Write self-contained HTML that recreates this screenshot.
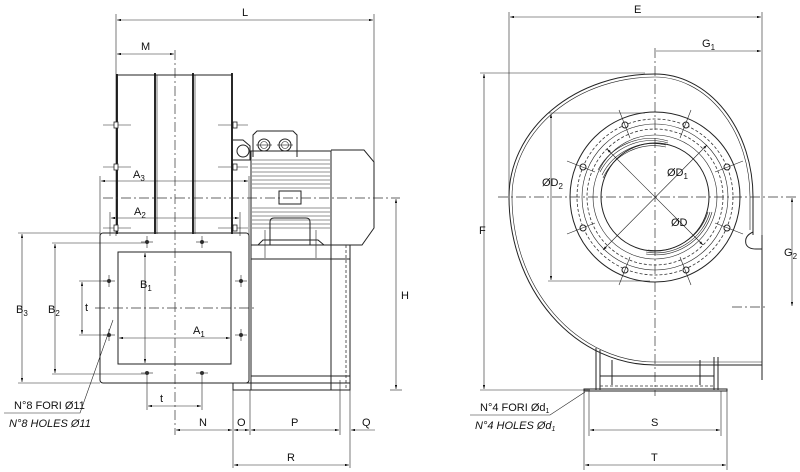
<!DOCTYPE html>
<html><head><meta charset="utf-8"><style>
html,body{margin:0;padding:0;background:#fff}
svg{display:block}
text{font-family:"Liberation Sans",sans-serif;font-size:11px;fill:#111}
.l{stroke:#222;stroke-width:1;fill:none}
.t{stroke:#222;stroke-width:0.6;fill:none}
.k{stroke:#111;stroke-width:1.8;fill:none}
.c{stroke:#333;stroke-width:0.7;fill:none;stroke-dasharray:10 3 2 3}
.d{stroke:#333;stroke-width:0.8;fill:none;stroke-dasharray:3 2}
</style></head><body>
<svg width="800" height="472" viewBox="0 0 800 472" xmlns="http://www.w3.org/2000/svg">
<defs>
<marker id="a" viewBox="0 0 10 6" refX="10" refY="3" markerWidth="7" markerHeight="4" orient="auto-start-reverse"><path d="M0,0 L10,3 L0,6 z" fill="#111"/></marker>
</defs>
<!-- LEFT VIEW -->
<g>
<line class="t" x1="116" y1="14" x2="116" y2="236"/>
<line class="t" x1="374" y1="14" x2="374" y2="165"/>
<line class="t" x1="117" y1="20" x2="373" y2="20" marker-start="url(#a)" marker-end="url(#a)"/>
<text x="242" y="16">L</text>
<line class="t" x1="117" y1="54" x2="174" y2="54" marker-start="url(#a)" marker-end="url(#a)"/>
<text x="141" y="50">M</text>
<line class="c" x1="175" y1="50" x2="175" y2="435"/>
<!-- housing -->
<line class="k" x1="117" y1="74" x2="117" y2="234"/>
<line class="l" x1="117" y1="75" x2="232" y2="75"/>
<line class="k" x1="155" y1="73" x2="155" y2="234"/>
<line class="k" x1="193" y1="73" x2="193" y2="234"/>
<line class="k" x1="232" y1="73" x2="232" y2="234"/>
<line class="t" x1="157" y1="75" x2="157" y2="234"/>
<line class="t" x1="195" y1="75" x2="195" y2="234"/>
<g class="t">
<line x1="103" y1="125" x2="131" y2="125"/><line x1="218" y1="125" x2="248" y2="125"/>
<line x1="103" y1="167" x2="131" y2="167"/><line x1="218" y1="167" x2="248" y2="167"/>
<line x1="103" y1="228" x2="131" y2="228"/><line x1="218" y1="228" x2="248" y2="228"/>
</g>
<g fill="#fff" stroke="#222" stroke-width="0.8">
<rect x="114" y="122" width="4" height="6"/><rect x="233" y="122" width="4" height="6"/>
<rect x="114" y="164" width="4" height="6"/><rect x="233" y="164" width="4" height="6"/>
<rect x="114" y="225" width="4" height="6"/><rect x="233" y="225" width="4" height="6"/>
</g>
<line class="t" x1="100" y1="176" x2="100" y2="236"/>
<line class="t" x1="249" y1="176" x2="249" y2="236"/>
<line class="t" x1="101" y1="181" x2="248" y2="181" marker-start="url(#a)" marker-end="url(#a)"/>
<text x="133" y="178">A<tspan font-size="8" dy="3">3</tspan></text>
<line class="t" x1="110" y1="212" x2="110" y2="236"/>
<line class="t" x1="240" y1="212" x2="240" y2="236"/>
<line class="t" x1="111" y1="218" x2="239" y2="218" marker-start="url(#a)" marker-end="url(#a)"/>
<text x="134" y="215">A<tspan font-size="8" dy="3">2</tspan></text>
<line class="c" x1="103" y1="198" x2="400" y2="198"/>
<!-- motor -->
<path class="l" d="M253,157 L253,135 L257,131 L293,131 L297,135 L297,157"/>
<circle class="l" cx="264" cy="145" r="6"/><circle class="t" cx="264" cy="145" r="3.5"/>
<circle class="l" cx="285" cy="145" r="6"/><circle class="t" cx="285" cy="145" r="3.5"/>
<line class="t" x1="256" y1="145" x2="272" y2="145"/><line class="t" x1="277" y1="145" x2="293" y2="145"/>
<circle class="l" cx="243" cy="151" r="6"/>
<path class="l" d="M233,140 L243,140 L250,146 L250,160 L233,160"/>
<rect class="l" x="251" y="151" width="80" height="94"/>
<g class="t">
<line x1="252" y1="160" x2="330" y2="160"/><line x1="252" y1="164" x2="330" y2="164"/>
<line x1="252" y1="168" x2="330" y2="168"/><line x1="252" y1="172" x2="330" y2="172"/>
<line x1="252" y1="176" x2="330" y2="176"/><line x1="252" y1="180" x2="330" y2="180"/>
<line x1="252" y1="184" x2="330" y2="184"/><line x1="252" y1="188" x2="330" y2="188"/>
<line x1="252" y1="208" x2="330" y2="208"/><line x1="252" y1="212" x2="330" y2="212"/>
<line x1="252" y1="216" x2="330" y2="216"/><line x1="252" y1="220" x2="330" y2="220"/>
<line x1="252" y1="224" x2="330" y2="224"/><line x1="252" y1="228" x2="330" y2="228"/>
</g>
<rect class="l" x="279" y="191" width="22" height="13" fill="#fff"/>
<path class="l" d="M270,245 L270,222 Q270,218 274,218 L306,218 Q310,218 310,222 L310,245" fill="#fff"/>
<path class="l" d="M258,245 L263,240 L318,240 L324,245"/>
<line class="t" x1="265" y1="230" x2="265" y2="258"/><line class="t" x1="316" y1="230" x2="316" y2="258"/>
<path class="l" d="M331,150 L364,150 L374,162 L374,228 L362,245 L331,245"/>
<!-- pedestal -->
<rect class="l" x="251" y="245" width="99" height="145"/>
<line class="l" x1="251" y1="259" x2="350" y2="259"/>
<line class="l" x1="251" y1="376" x2="350" y2="376"/>
<line class="l" x1="331" y1="245" x2="331" y2="390"/>
<line class="d" x1="346" y1="245" x2="346" y2="390"/>
<rect class="l" x="233" y="383" width="117" height="7"/>
<line class="t" x1="390" y1="390" x2="402" y2="390"/>
<line class="t" x1="396" y1="199" x2="396" y2="389" marker-start="url(#a)" marker-end="url(#a)"/>
<text x="401" y="299">H</text>
<!-- flange -->
<rect class="l" x="100" y="233" width="149" height="150" rx="3"/>
<rect class="l" x="118" y="252" width="113" height="112"/>
<g fill="#333">
<circle cx="147" cy="242" r="2"/><circle cx="202" cy="242" r="2"/>
<circle cx="109" cy="281" r="2"/><circle cx="241" cy="281" r="2"/>
<circle cx="109" cy="335" r="2"/><circle cx="241" cy="335" r="2"/>
<circle cx="147" cy="373" r="2"/><circle cx="202" cy="373" r="2"/>
</g>
<g class="t">
<line x1="141" y1="242" x2="153" y2="242"/><line x1="147" y1="236" x2="147" y2="248"/>
<line x1="196" y1="242" x2="208" y2="242"/><line x1="202" y1="236" x2="202" y2="248"/>
<line x1="235" y1="281" x2="247" y2="281"/><line x1="241" y1="275" x2="241" y2="287"/>
<line x1="235" y1="335" x2="247" y2="335"/><line x1="241" y1="329" x2="241" y2="341"/>
<line x1="103" y1="281" x2="115" y2="281"/><line x1="109" y1="275" x2="109" y2="287"/>
<line x1="103" y1="335" x2="115" y2="335"/><line x1="109" y1="329" x2="109" y2="341"/>
<line x1="141" y1="373" x2="153" y2="373"/><line x1="196" y1="373" x2="208" y2="373"/>
</g>
<line class="c" x1="95" y1="308" x2="256" y2="308"/>
<line class="t" x1="18" y1="233" x2="100" y2="233"/>
<line class="t" x1="18" y1="383" x2="100" y2="383"/>
<line class="t" x1="22" y1="234" x2="22" y2="382" marker-start="url(#a)" marker-end="url(#a)"/>
<text x="16" y="313">B<tspan font-size="8" dy="3">3</tspan></text>
<line class="t" x1="52" y1="243" x2="145" y2="243"/>
<line class="t" x1="52" y1="374" x2="145" y2="374"/>
<line class="t" x1="55" y1="244" x2="55" y2="373" marker-start="url(#a)" marker-end="url(#a)"/>
<text x="48" y="313">B<tspan font-size="8" dy="3">2</tspan></text>
<line class="t" x1="145" y1="253" x2="145" y2="363" marker-start="url(#a)" marker-end="url(#a)"/>
<text x="140" y="288">B<tspan font-size="8" dy="3">1</tspan></text>
<line class="t" x1="79" y1="281" x2="107" y2="281"/>
<line class="t" x1="79" y1="335" x2="107" y2="335"/>
<line class="t" x1="82" y1="282" x2="82" y2="334" marker-start="url(#a)" marker-end="url(#a)"/>
<text x="85" y="311">t</text>
<line class="t" x1="119" y1="338" x2="230" y2="338" marker-start="url(#a)" marker-end="url(#a)"/>
<text x="193" y="334">A<tspan font-size="8" dy="3">1</tspan></text>
<line class="t" x1="147" y1="375" x2="147" y2="410"/>
<line class="t" x1="202" y1="375" x2="202" y2="410"/>
<line class="t" x1="148" y1="406" x2="201" y2="406" marker-start="url(#a)" marker-end="url(#a)"/>
<text x="160" y="402">t</text>
<line class="t" x1="233" y1="390" x2="233" y2="468"/>
<line class="t" x1="250" y1="390" x2="250" y2="435"/>
<line class="t" x1="340" y1="380" x2="340" y2="435"/>
<line class="t" x1="350" y1="390" x2="350" y2="468"/>
<line class="t" x1="176" y1="430" x2="232" y2="430" marker-start="url(#a)" marker-end="url(#a)"/>
<text x="199" y="426">N</text>
<line class="t" x1="234" y1="430" x2="249" y2="430" marker-start="url(#a)" marker-end="url(#a)"/>
<text x="237" y="426">O</text>
<line class="t" x1="251" y1="430" x2="339" y2="430" marker-start="url(#a)" marker-end="url(#a)"/>
<text x="291" y="426">P</text>
<line class="t" x1="375" y1="430" x2="351" y2="430" marker-end="url(#a)"/>
<text x="362" y="426">Q</text>
<line class="t" x1="234" y1="465" x2="349" y2="465" marker-start="url(#a)" marker-end="url(#a)"/>
<text x="287" y="461">R</text>
<polyline class="t" points="4,413 80,413 113,320"/>
<text x="14" y="409" font-size="10">N°8 FORI Ø11</text>
<text x="9" y="427" font-size="10" font-style="italic">N°8 HOLES Ø11</text>
</g>
<!-- RIGHT VIEW -->
<g>
<line class="t" x1="509" y1="12" x2="509" y2="200"/>
<line class="t" x1="762" y1="12" x2="762" y2="240"/>
<line class="t" x1="510" y1="17" x2="761" y2="17" marker-start="url(#a)" marker-end="url(#a)"/>
<text x="634" y="13">E</text>
<line class="t" x1="656" y1="51" x2="761" y2="51" marker-end="url(#a)"/>
<text x="702" y="47">G<tspan font-size="8" dy="3">1</tspan></text>
<line class="c" x1="655" y1="48" x2="655" y2="396"/>
<line class="c" x1="498" y1="197" x2="796" y2="197"/>
<!-- scroll -->
<path class="l" d="M753,235 L753,197 A98,123 0 0 0 655,74 A146,123 0 0 0 509,197 A146,168 0 0 0 655,365 L762,365"/>
<path class="t" d="M750,230 L750,197 A95,120 0 0 0 655,77 A143,120 0 0 0 512,197 A143,165 0 0 0 655,362 L762,362"/>
<path class="l" d="M753,232 Q744,236 746,244 Q748,249 756,249 L762,249"/>
<line class="l" x1="762" y1="235" x2="762" y2="380"/>
<!-- rings -->
<circle class="l" cx="655" cy="197" r="85"/>
<circle class="d" cx="655" cy="197" r="78"/>
<circle class="t" cx="655" cy="197" r="73"/>
<circle class="d" cx="655" cy="197" r="68"/>
<circle class="t" cx="655" cy="197" r="62"/>
<circle class="l" cx="655" cy="197" r="54"/>
<g class="t">
<path d="M598,170 A60,60 0 0 1 668,141"/><path d="M600,172 A58,58 0 0 1 668,143"/>
<path d="M602,175 A57,57 0 0 1 666,145"/><path d="M603,178 A56,56 0 0 1 666,147"/>
<path d="M712,212 A58,58 0 0 1 646,254"/><path d="M710,212 A56,56 0 0 1 646,252"/>
<path d="M708,212 A55,55 0 0 1 648,250"/>
</g>
<g fill="#fff" stroke="#222" stroke-width="1">
<circle cx="625" cy="125" r="3"/><circle cx="686" cy="125" r="3"/>
<circle cx="583" cy="167" r="3"/><circle cx="727" cy="167" r="3"/>
<circle cx="583" cy="228" r="3"/><circle cx="727" cy="228" r="3"/>
<circle cx="625" cy="270" r="3"/><circle cx="686" cy="270" r="3"/>
</g>
<g class="t">
<line x1="619" y1="110" x2="630" y2="138"/><line x1="691" y1="110" x2="680" y2="138"/>
<line x1="567" y1="161" x2="595" y2="172"/><line x1="743" y1="161" x2="715" y2="172"/>
<line x1="567" y1="234" x2="595" y2="223"/><line x1="743" y1="234" x2="715" y2="223"/>
<line x1="619" y1="285" x2="630" y2="257"/><line x1="691" y1="285" x2="680" y2="257"/>
</g>
<line class="t" x1="607" y1="149" x2="703" y2="245" marker-start="url(#a)" marker-end="url(#a)"/>
<line class="t" x1="707" y1="145" x2="603" y2="250" marker-start="url(#a)" marker-end="url(#a)"/>
<text x="667" y="176">ØD<tspan font-size="8" dy="3">1</tspan></text>
<text x="671" y="226">ØD</text>
<line class="t" x1="548" y1="113" x2="645" y2="113"/>
<line class="t" x1="548" y1="281" x2="650" y2="281"/>
<line class="t" x1="551" y1="114" x2="551" y2="280" marker-start="url(#a)" marker-end="url(#a)"/>
<text x="542" y="186">ØD<tspan font-size="8" dy="3">2</tspan></text>
<line class="c" x1="732" y1="307" x2="768" y2="307"/>
<line class="t" x1="792" y1="198" x2="792" y2="306" marker-start="url(#a)" marker-end="url(#a)"/>
<text x="784" y="256">G<tspan font-size="8" dy="3">2</tspan></text>
<line class="t" x1="480" y1="73" x2="645" y2="73"/>
<line class="t" x1="480" y1="390" x2="590" y2="390"/>
<line class="t" x1="484" y1="74" x2="484" y2="389" marker-start="url(#a)" marker-end="url(#a)"/>
<text x="479" y="234">F</text>
<!-- pedestal -->
<path class="l" d="M596,390 L596,348 M600,390 L600,350 M612,385 L612,360 M700,385 L700,360 M714,390 L714,357 M718,390 L718,357"/>
<line class="l" x1="600" y1="376" x2="714" y2="376"/>
<line class="d" x1="600" y1="386" x2="714" y2="386"/>
<rect class="l" x="584" y="389" width="143" height="2"/>
<line class="t" x1="589" y1="391" x2="589" y2="436"/>
<line class="t" x1="721" y1="391" x2="721" y2="436"/>
<line class="t" x1="584" y1="391" x2="584" y2="470"/>
<line class="t" x1="727" y1="391" x2="727" y2="470"/>
<line class="t" x1="590" y1="430" x2="720" y2="430" marker-start="url(#a)" marker-end="url(#a)"/>
<text x="651" y="426">S</text>
<line class="t" x1="585" y1="465" x2="726" y2="465" marker-start="url(#a)" marker-end="url(#a)"/>
<text x="651" y="461">T</text>
<polyline class="t" points="470,415 550,415 585,392"/>
<text x="480" y="411" font-size="10">N°4 FORI Ød<tspan font-size="7" dy="2">1</tspan></text>
<text x="475" y="429" font-size="10" font-style="italic">N°4 HOLES Ød<tspan font-size="7" dy="2">1</tspan></text>
</g>
</svg>
</body></html>
